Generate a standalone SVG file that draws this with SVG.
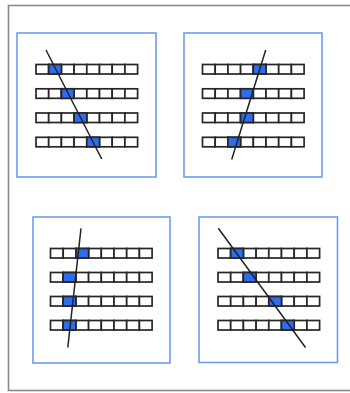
<svg xmlns="http://www.w3.org/2000/svg" xmlns:xlink="http://www.w3.org/1999/xlink" width="350" height="393" viewBox="0 0 350 393">
<style>
.frame{fill:none;stroke:#8a8a8a;stroke-width:1.6}
.panel{fill:#ffffff;stroke:#6d9eeb;stroke-width:1.6}
.cell{fill:#ffffff;stroke:#262626;stroke-width:1.7}
.hit{fill:#2f6df0;stroke:#262626;stroke-width:1.7}
.cut{stroke:#222222;stroke-width:1.5;fill:none}
</style>
<defs>
<g id="row">
<rect class="cell" x="0" y="0" width="12.7" height="9.5"/>
<rect class="cell" x="12.7" y="0" width="12.7" height="9.5"/>
<rect class="cell" x="25.4" y="0" width="12.7" height="9.5"/>
<rect class="cell" x="38.1" y="0" width="12.7" height="9.5"/>
<rect class="cell" x="50.8" y="0" width="12.7" height="9.5"/>
<rect class="cell" x="63.5" y="0" width="12.7" height="9.5"/>
<rect class="cell" x="76.2" y="0" width="12.7" height="9.5"/>
<rect class="cell" x="88.9" y="0" width="12.7" height="9.5"/>
</g>
<rect id="hit" class="hit" x="0" y="0" width="12.7" height="9.5"/>
</defs>
<rect width="350" height="393" fill="#ffffff"/>
<rect class="frame" x="8.5" y="5.5" width="350" height="385"/>

<g id="panel-1">
<rect class="panel" x="17" y="33" width="139" height="144"/>
<use xlink:href="#row" x="36" y="64.5"/>
<use xlink:href="#row" x="36" y="88.8"/>
<use xlink:href="#row" x="36" y="113"/>
<use xlink:href="#row" x="36" y="137.3"/>
<use xlink:href="#hit" x="48.7" y="64.5"/>
<use xlink:href="#hit" x="61.4" y="88.8"/>
<use xlink:href="#hit" x="74.1" y="113"/>
<use xlink:href="#hit" x="86.8" y="137.3"/>
<line class="cut" x1="46" y1="50" x2="101.7" y2="159"/>
</g>

<g id="panel-2">
<rect class="panel" x="184" y="33" width="138" height="144"/>
<use xlink:href="#row" x="202.5" y="64.5"/>
<use xlink:href="#row" x="202.5" y="88.8"/>
<use xlink:href="#row" x="202.5" y="113"/>
<use xlink:href="#row" x="202.5" y="137.3"/>
<use xlink:href="#hit" x="253.3" y="64.5"/>
<use xlink:href="#hit" x="240.6" y="88.8"/>
<use xlink:href="#hit" x="240.6" y="113"/>
<use xlink:href="#hit" x="227.9" y="137.3"/>
<line class="cut" x1="265.7" y1="50" x2="231.7" y2="159.5"/>
</g>

<g id="panel-3">
<rect class="panel" x="33" y="217" width="137" height="146"/>
<use xlink:href="#row" x="50.5" y="248.5"/>
<use xlink:href="#row" x="50.5" y="272.5"/>
<use xlink:href="#row" x="50.5" y="296.5"/>
<use xlink:href="#row" x="50.5" y="320.5"/>
<use xlink:href="#hit" x="75.9" y="248.5"/>
<use xlink:href="#hit" x="63.2" y="272.5"/>
<use xlink:href="#hit" x="63.2" y="296.5"/>
<use xlink:href="#hit" x="63.2" y="320.5"/>
<line class="cut" x1="81" y1="228.3" x2="67.8" y2="347.5"/>
</g>

<g id="panel-4">
<rect class="panel" x="199" y="217" width="138.5" height="145.5"/>
<use xlink:href="#row" x="218" y="248.5"/>
<use xlink:href="#row" x="218" y="272.5"/>
<use xlink:href="#row" x="218" y="296.5"/>
<use xlink:href="#row" x="218" y="320.5"/>
<use xlink:href="#hit" x="230.7" y="248.5"/>
<use xlink:href="#hit" x="243.4" y="272.5"/>
<use xlink:href="#hit" x="268.8" y="296.5"/>
<use xlink:href="#hit" x="281.5" y="320.5"/>
<line class="cut" x1="218.3" y1="228.3" x2="305.5" y2="347.5"/>
</g>
</svg>
